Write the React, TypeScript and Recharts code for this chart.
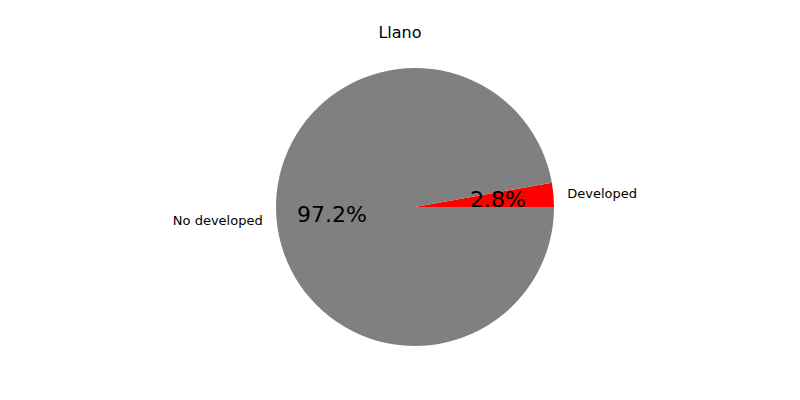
import { PieChart, Pie, Cell } from "recharts";

const labels = ["Developed", "No developed"];
const values = [2.8, 97.2];
const colors = ["#ff0000", "#808080"];

const data = labels.map((name, i) => ({ name, value: values[i] }));

const RAD = Math.PI / 180;

function renderLabel(props: any) {
  const { cx, cy, midAngle, outerRadius, percent, name } = props;
  const cos = Math.cos(-midAngle * RAD);
  const sin = Math.sin(-midAngle * RAD);
  const pr = outerRadius * 0.6;
  const lr = outerRadius * 1.1;
  const lx = cx + lr * cos;
  const ly = cy + lr * sin;
  return (
    <g>
      <text
        x={cx + pr * cos}
        y={cy + pr * sin}
        textAnchor="middle"
        dominantBaseline="central"
        fontSize={22}
        fill="#000"
      >
        {(percent * 100).toFixed(1)}%
      </text>
      <text
        x={lx}
        y={ly}
        textAnchor={cos >= 0 ? "start" : "end"}
        dominantBaseline="central"
        fontSize={13}
        fill="#000"
      >
        {name}
      </text>
    </g>
  );
}

export default function App() {
  return (
    <div
      style={{
        position: "absolute",
        left: 0,
        top: 0,
        width: 800,
        height: 400,
        background: "#fff",
        fontFamily: "DejaVu Sans, sans-serif",
      }}
    >
      <div
        style={{
          position: "absolute",
          top: 23,
          width: 800,
          textAlign: "center",
          fontSize: 16,
        }}
      >
        Llano
      </div>
      <PieChart width={800} height={400}>
        <Pie
          data={data}
          dataKey="value"
          nameKey="name"
          cx={410}
          cy={202}
          outerRadius={139}
          startAngle={0}
          endAngle={360}
          stroke="none"
          label={renderLabel}
          labelLine={false}
          isAnimationActive={false}
        >
          {data.map((d, i) => (
            <Cell key={d.name} fill={colors[i]} />
          ))}
        </Pie>
      </PieChart>
    </div>
  );
}
